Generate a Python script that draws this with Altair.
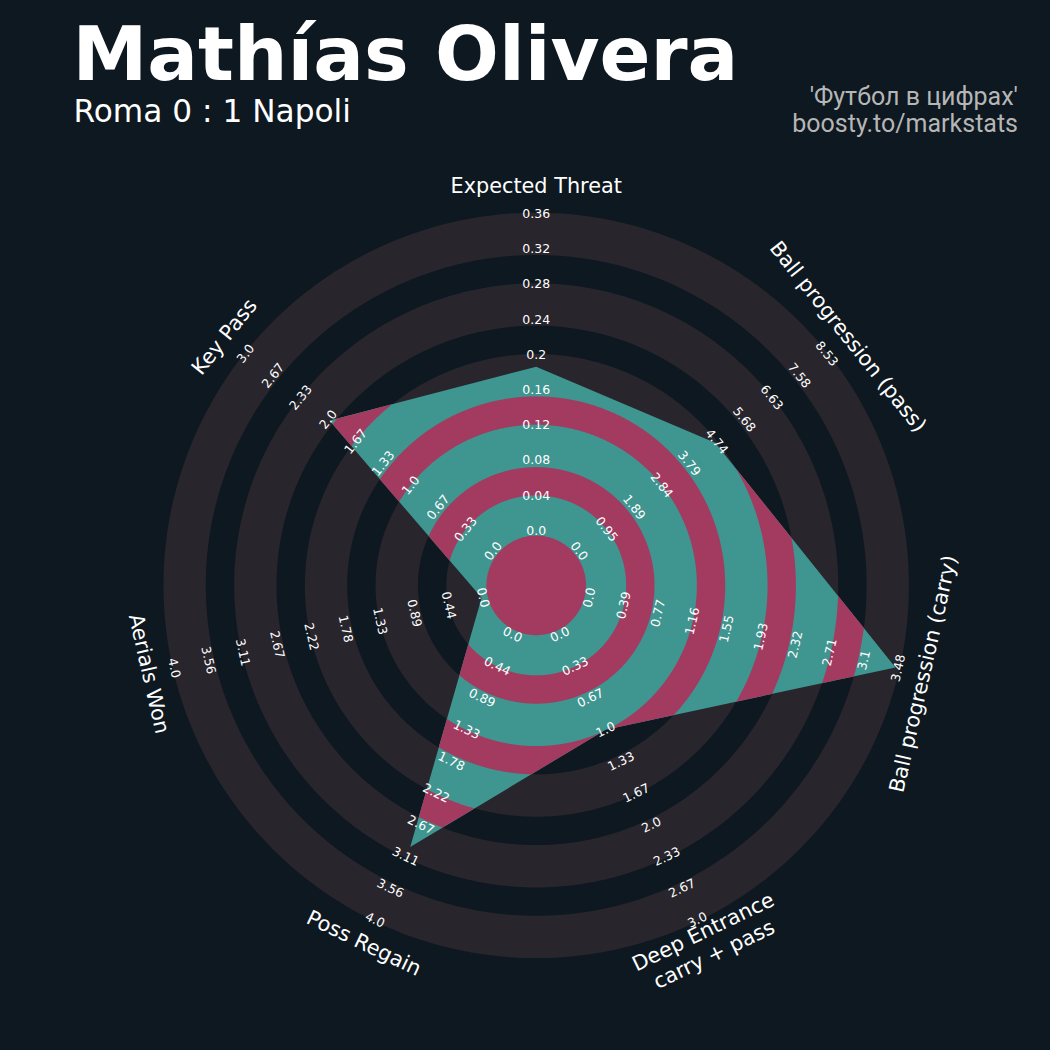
import numpy as np
import pandas as pd
import altair as alt

# ---------------------------------------------------------------- data
params = ["Expected Threat", "Ball progression (pass)", "Ball progression (carry)",
          "Deep Entrance\ncarry + pass", "Poss Regain", "Aerials Won", "Key Pass"]
values = [0.1875, 4.72, 3.48, 1.0, 3.0, 0.0, 2.0]

ticks_xt = ["0.0", "0.04", "0.08", "0.12", "0.16", "0.2", "0.24", "0.28", "0.32", "0.36"]
ticks_pass = ["0.0", "0.95", "1.89", "2.84", "3.79", "4.74", "5.68", "6.63", "7.58", "8.53"]
ticks_carry = ["0.0", "0.39", "0.77", "1.16", "1.55", "1.93", "2.32", "2.71", "3.1", "3.48"]
ticks_deep = ["0.0", "0.33", "0.67", "1.0", "1.33", "1.67", "2.0", "2.33", "2.67", "3.0"]
ticks_regain = ["0.0", "0.44", "0.89", "1.33", "1.78", "2.22", "2.67", "3.11", "3.56", "4.0"]
ticks_aerial = ["0.0", "0.44", "0.89", "1.33", "1.78", "2.22", "2.67", "3.11", "3.56", "4.0"]
ticks_key = ["0.0", "0.33", "0.67", "1.0", "1.33", "1.67", "2.0", "2.33", "2.67", "3.0"]
tick_labels = [ticks_xt, ticks_pass, ticks_carry, ticks_deep, ticks_regain, ticks_aerial, ticks_key]

title = "Mathías Olivera"
subtitle = "Roma 0 : 1 Napoli"
credit_top = "'Футбол в цифрах'"
credit_bottom = "boosty.to/markstats"

# ---------------------------------------------------------------- style
BG = "#0e1820"
GREY = "#28252c"
TEAL = "#3f958f"
PINK = "#a33b61"
W = H = 1050
CX, CY = 536.2, 585.4          # radar centre in the canvas

R_MIN, R_SPAN = 56.0, 312.5    # radius of range minimum / length of the range
RING_BASE, RING_STEP, RING_PAD = 51.1, 35.35, 3.5
CENTER_R = 49.8
LABEL_R0, LABEL_STEP = 54.7, 35.2
PARAM_R = 398.0
PARAM_LH = 25.0

xs = alt.Scale(domain=[-CX, W - CX], range=[0, W], nice=False, zero=False)
ys = alt.Scale(domain=[-(H - CY), CY], range=[H, 0], nice=False, zero=False)

n = len(params)
axis_deg = [90 - k * 360 / n for k in range(n)]


def text_angle(deg):
    rot = deg - 90
    while rot > 90:
        rot -= 180
    while rot <= -90:
        rot += 180
    return (-rot) % 360


# polygon vertices
verts = []
for k in range(n):
    lo, hi = float(tick_labels[k][0]), float(tick_labels[k][-1])
    frac = min(max((values[k] - lo) / (hi - lo), 0.0), 1.0)
    r = R_MIN + R_SPAN * frac
    a = np.radians(axis_deg[k])
    verts.append((r * np.cos(a), r * np.sin(a)))
P = np.array(verts)


def edge_radius(theta):
    d = np.stack([np.cos(theta), np.sin(theta)], axis=1)
    best = np.full(theta.shape, np.nan)
    for k in range(n):
        a = P[k]
        e = P[(k + 1) % n] - a
        den = d[:, 0] * e[1] - d[:, 1] * e[0]
        with np.errstate(divide="ignore", invalid="ignore"):
            t = (a[0] * e[1] - a[1] * e[0]) / den
            s = (a[0] * d[:, 1] - a[1] * d[:, 0]) / den
        ok = (t > 0) & (s >= -1e-9) & (s <= 1 + 1e-9) & np.isnan(best)
        best = np.where(ok, t, best)
    return best


def annulus(key, r_in, r_out, step_deg, clip=False):
    th = np.radians(np.arange(0, 360 + step_deg / 2, step_deg))
    if clip:
        vert_th = np.mod(np.arctan2(P[:, 1], P[:, 0]), 2 * np.pi)
        th = np.unique(np.concatenate([th, vert_th]))
        outer = np.clip(edge_radius(th), r_in, r_out)
    else:
        outer = np.full(th.shape, r_out)
    px = list(outer * np.cos(th))
    py = list(outer * np.sin(th))
    if r_in > 0:
        thr = th[::-1]
        px += list(r_in * np.cos(thr))
        py += list(r_in * np.sin(thr))
    return pd.DataFrame({"band": key, "i": np.arange(len(px)),
                         "x": np.round(px, 3), "y": np.round(py, 3)})


grey_df = pd.concat([annulus(f"g{j}",
                             RING_BASE + 2 * j * RING_STEP - RING_PAD,
                             RING_BASE + (2 * j + 1) * RING_STEP + RING_PAD, 1.0)
                     for j in range(5)])
pink_df = pd.concat([annulus(f"p{j}",
                             RING_BASE + (2 * j + 1) * RING_STEP + RING_PAD,
                             RING_BASE + (2 * j + 2) * RING_STEP - RING_PAD, 0.2, clip=True)
                     for j in range(4)])
center_df = annulus("c", 0, CENTER_R, 1.0)
poly_df = pd.DataFrame({"band": "radar", "i": np.arange(n), "x": P[:, 0], "y": P[:, 1]})

lab_rows = []
for k in range(n):
    a = np.radians(axis_deg[k])
    for i, lab in enumerate(tick_labels[k]):
        r = LABEL_R0 + LABEL_STEP * i
        lab_rows.append({"x": r * np.cos(a), "y": r * np.sin(a), "lab": lab,
                         "ang": text_angle(axis_deg[k])})
lab_df = pd.DataFrame(lab_rows)

# parameter names; multi-line names are shifted so the whole block is centred
par_rows = []
for k, name in enumerate(params):
    a = np.radians(axis_deg[k])
    ang = text_angle(axis_deg[k])
    shift = (name.count("\n")) * PARAM_LH / 2
    up = np.radians(ang)
    par_rows.append({
        "x": PARAM_R * np.cos(a) + shift * np.sin(up),
        "y": PARAM_R * np.sin(a) + shift * np.cos(up),
        "lab": name, "ang": ang,
    })
par_df = pd.DataFrame(par_rows)


def filled(df, color):
    return alt.Chart(df).mark_line(
        interpolate="linear-closed", filled=True, fill=color, stroke=color,
        strokeWidth=0, strokeOpacity=0
    ).encode(
        x=alt.X("x:Q", scale=xs, axis=None),
        y=alt.Y("y:Q", scale=ys, axis=None),
        detail="band:N",
        order="i:Q",
    )


rings = filled(grey_df, GREY)
radar = filled(poly_df, TEAL)
bands = filled(pink_df, PINK)
center = filled(center_df, PINK)

ring_labels = alt.Chart(lab_df).mark_text(
    font="DejaVu Sans", fontSize=12.5, color="white", align="center", baseline="middle"
).encode(
    x=alt.X("x:Q", scale=xs, axis=None),
    y=alt.Y("y:Q", scale=ys, axis=None),
    text="lab:N",
    angle=alt.Angle("ang:Q", scale=None),
)

param_labels = alt.Chart(par_df).mark_text(
    font="DejaVu Sans", fontSize=20.8, color="white", align="center", baseline="middle",
    lineBreak="\n", lineHeight=PARAM_LH
).encode(
    x=alt.X("x:Q", scale=xs, axis=None),
    y=alt.Y("y:Q", scale=ys, axis=None),
    text="lab:N",
    angle=alt.Angle("ang:Q", scale=None),
)


def label(txt, x, y, size, align="left", weight="normal", font="DejaVu Sans", color="white"):
    return alt.Chart(pd.DataFrame({"t": [txt]})).mark_text(
        font=font, fontSize=size, fontWeight=weight, color=color,
        align=align, baseline="alphabetic"
    ).encode(x=alt.value(x), y=alt.value(y), text="t:N")


title_mark = label(title, 72.5, 80, 75.2, weight="bold")
subtitle_mark = label(subtitle, 73.5, 122, 31.2)
credit1 = label(credit_top, 1018, 105, 25, align="right", font="Roboto", color="#b6b6b6")
credit2 = label(credit_bottom, 1018, 132, 25, align="right", font="Roboto", color="#b6b6b6")

chart = alt.layer(
    rings, radar, bands, center, ring_labels, param_labels,
    title_mark, subtitle_mark, credit1, credit2,
).properties(
    width=W, height=H, background=BG, padding=0, autosize="none"
).configure_view(stroke=None, fill=BG)

chart.save("out.html", embed_options={"renderer": "svg", "actions": False})
